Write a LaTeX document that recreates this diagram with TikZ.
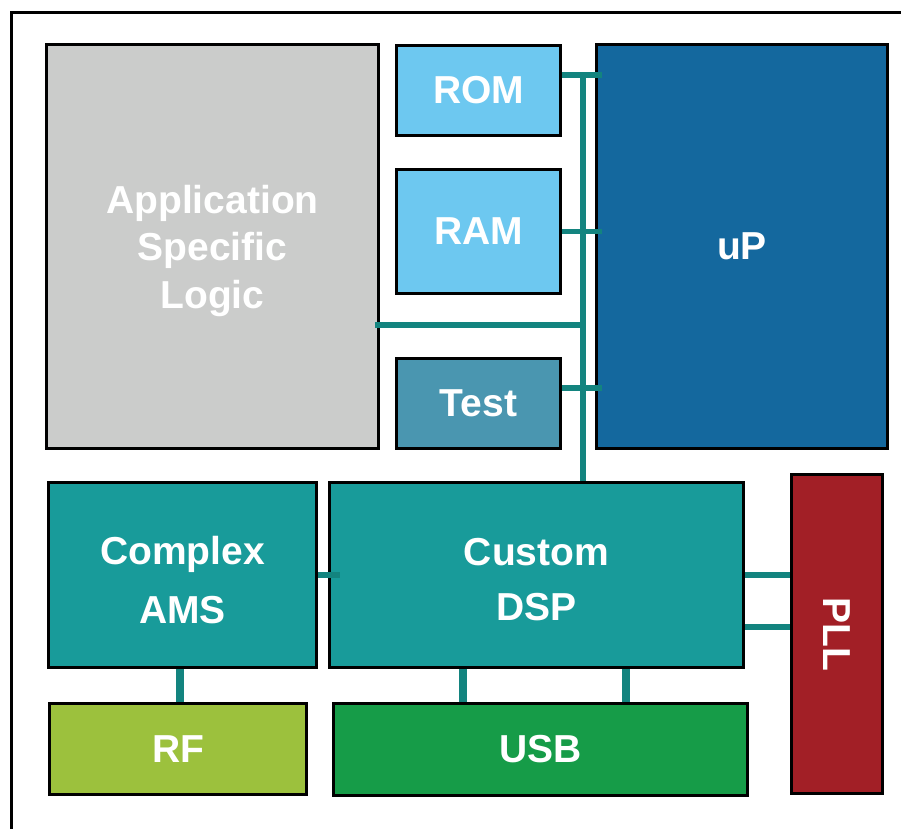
\documentclass[tikz,border=0pt]{standalone}
\usepackage{fontspec}
\setmainfont{Liberation Sans}
\definecolor{cgray}{HTML}{CBCCCB}
\definecolor{clblue}{HTML}{6DC8F0}
\definecolor{ctest}{HTML}{4A96B0}
\definecolor{cup}{HTML}{14689E}
\definecolor{cteal}{HTML}{189B9A}
\definecolor{cbus}{HTML}{13847F}
\definecolor{cpll}{HTML}{A21F26}
\definecolor{crf}{HTML}{9CC13D}
\definecolor{cusb}{HTML}{169C48}
\begin{document}
\begin{tikzpicture}[x=1pt,y=-1pt,
  blk/.style={draw=black,line width=2.5pt,rectangle,inner sep=0pt,align=center,
    text=white,font=\fontsize{39}{47.5}\selectfont\bfseries},
  lbl/.style={inner sep=0pt,align=center,text=white,font=\fontsize{39}{47.5}\selectfont\bfseries},
  bus/.style={draw=cbus,line width=5.5pt},
  vstub/.style={draw=cbus,line width=8pt}]
\useasboundingbox (0,0) rectangle (901,828);
\draw[line width=3pt] (11,850) -- (11,12) -- (920,12);
% blocks
\node[blk,fill=cgray,minimum width=332pt,minimum height=404pt] (asl) at (212.5,246.5) {};
\node[lbl,yshift=-4pt] (asltext) at (asl.center) {Application\\Specific\\Logic};
\node[blk,fill=clblue,minimum width=164pt,minimum height=90pt] (rom) at (478.5,90.5) {ROM};
\node[blk,fill=clblue,minimum width=164pt,minimum height=124pt] (ram) at (478.5,231.5) {RAM};
\node[blk,fill=ctest,minimum width=164pt,minimum height=90pt] (test) at (478.5,403.5) {Test};
\node[blk,fill=cup,minimum width=291pt,minimum height=404pt] (up) at (742,246.5) {uP};
\node[blk,fill=cteal,minimum width=268pt,minimum height=185pt] (ams) at (182.5,575) {};
\node[lbl,yshift=-5pt] (amstext) at (ams.center) {Complex\\[11.5pt]AMS};
\node[blk,fill=cteal,minimum width=414pt,minimum height=185pt] (dsp) at (536.5,575) {};
\node[lbl,yshift=-5pt] (dsptext) at (dsp.center) {Custom\\[7.5pt]DSP};
\node[blk,fill=cpll,minimum width=91pt,minimum height=319pt] (pll) at (837,634) {};
\node[lbl,rotate=-90] (plltext) at (pll.center) {PLL};
\node[blk,fill=crf,minimum width=257pt,minimum height=91pt] (rf) at (178,749) {RF};
\node[blk,fill=cusb,minimum width=414pt,minimum height=92pt] (usb) at (540.5,749.5) {USB};
% bus
\coordinate (bt) at (583,72);
\draw[bus] (bt) -- (bt |- dsp.north);
\draw[bus] ([yshift=15.5pt]rom.east) -- ++(40,0);
\draw[bus] (ram.east) -- ++(40,0);
\draw[bus] ([yshift=15.5pt]test.east) -- ++(40,0);
\draw[bus] ([xshift=-5pt,yshift=-78.5pt]asl.east) -- ([yshift=-78.5pt]asl.east -| bt);
\draw[bus] (ams.east) -- ++(22,0);
\draw[bus,line width=6pt] (dsp.east) -- (dsp.east -| pll.west);
\draw[bus,line width=6pt] ([yshift=-52pt]dsp.east) -- ([yshift=-52pt]dsp.east -| pll.west);
\draw[vstub] ([xshift=2pt]rf.north) -- ([xshift=2pt]rf.north |- ams.south);
\draw[vstub] ([xshift=-77.5pt]usb.north) -- ([xshift=-77.5pt]usb.north |- dsp.south);
\draw[vstub] ([xshift=85.5pt]usb.north) -- ([xshift=85.5pt]usb.north |- dsp.south);
\end{tikzpicture}
\end{document}
